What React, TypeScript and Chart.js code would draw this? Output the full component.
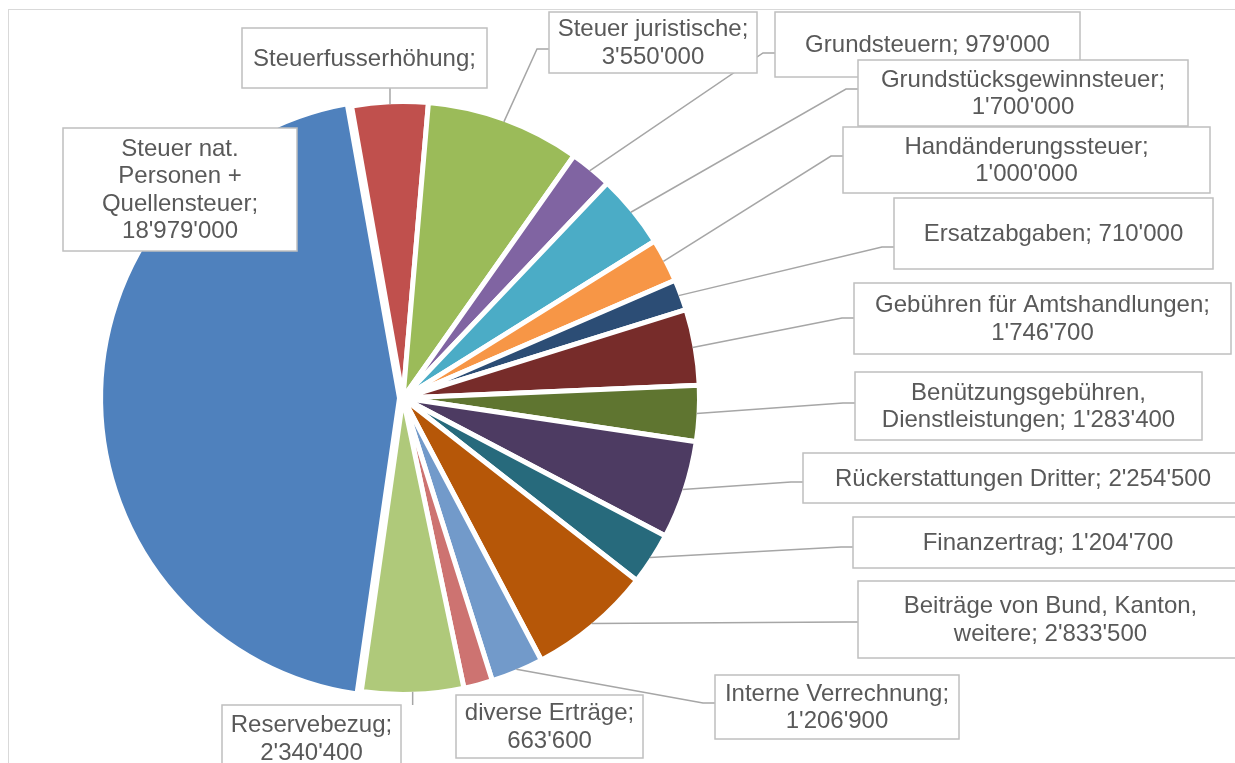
import React, { useEffect, useRef } from 'react';
import { Chart, registerables } from 'chart.js';

Chart.register(...registerables);

// ---------- data ----------
const CATEGORIES = [
  'Steuer nat. Personen + Quellensteuer',
  'Steuerfusserhöhung',
  'Steuer juristische',
  'Grundsteuern',
  'Grundstücksgewinnsteuer',
  'Handänderungssteuer',
  'Ersatzabgaben',
  'Gebühren für Amtshandlungen',
  'Benützungsgebühren, Dienstleistungen',
  'Rückerstattungen Dritter',
  'Finanzertrag',
  'Beiträge von Bund, Kanton, weitere',
  'Interne Verrechnung',
  'diverse Erträge',
  'Reservebezug',
];

const VALUES = [
  18979000, 1750000, 3550000, 979000, 1700000, 1000000, 710000, 1746700,
  1283400, 2254500, 1204700, 2833500, 1206900, 663600, 2340400,
];

// the value of "Steuerfusserhöhung" is not printed in its label
const SHOW_VALUE = [
  true, false, true, true, true, true, true, true,
  true, true, true, true, true, true, true,
];

const COLORS = [
  '#4F81BD', '#C0504D', '#9BBB59', '#8064A2', '#4BACC6', '#F79646',
  '#2C4D75', '#772C2A', '#5F7530', '#4D3B62', '#276A7C', '#B65708',
  '#729ACA', '#CD7371', '#AFC97A',
];

// ---------- layout (label callouts) ----------
// words per line of each label text
const LINE_WORDS = [
  [2, 2, 1, 1], [1], [2, 1], [2], [1, 1], [1, 1], [2], [3, 1],
  [1, 2], [3], [2], [4, 2], [2, 1], [2, 1], [1, 1],
];

type Box = { x: number; y: number; w: number; h: number; leader: 'none' | 'left' | 'top' | 'bottom'; ly?: number };
const LABEL_BOXES: Box[] = [
  { x: 63, y: 128, w: 234, h: 123, leader: 'none' },
  { x: 242, y: 28, w: 245, h: 60, leader: 'bottom' },
  { x: 549, y: 12, w: 208, h: 61, leader: 'left', ly: 49 },
  { x: 775, y: 12, w: 305, h: 65, leader: 'left', ly: 53 },
  { x: 858, y: 60, w: 330, h: 66, leader: 'left', ly: 89 },
  { x: 843, y: 127, w: 367, h: 66, leader: 'left', ly: 156 },
  { x: 894, y: 198, w: 319, h: 71, leader: 'left', ly: 247 },
  { x: 854, y: 283, w: 377, h: 71, leader: 'left', ly: 318 },
  { x: 855, y: 372, w: 347, h: 68, leader: 'left', ly: 403 },
  { x: 803, y: 453, w: 440, h: 50, leader: 'left', ly: 482 },
  { x: 853, y: 517, w: 390, h: 51, leader: 'left', ly: 547 },
  { x: 858, y: 581, w: 385, h: 77, leader: 'left', ly: 622 },
  { x: 715, y: 675, w: 244, h: 64, leader: 'left', ly: 703 },
  { x: 456, y: 695, w: 187, h: 63, leader: 'none' },
  { x: 222, y: 705, w: 179, h: 67, leader: 'top' },
];

const BORDER = 5;
const FONT = '24px "Liberation Sans", Arial, sans-serif';
const LINE_H = 27.5;

const fmt = (v: number) => String(v).replace(/\B(?=(\d{3})+(?!\d))/g, "'");

function labelLines(i: number): string[] {
  const text = CATEGORIES[i] + ';' + (SHOW_VALUE[i] ? ' ' + fmt(VALUES[i]) : '');
  const words = text.split(' ');
  const lines: string[] = [];
  let k = 0;
  for (const n of LINE_WORDS[i]) {
    lines.push(words.slice(k, k + n).join(' '));
    k += n;
  }
  return lines;
}

const calloutPlugin = {
  id: 'callouts',
  beforeDraw(chart: any) {
    const ctx = chart.ctx;
    ctx.save();
    ctx.fillStyle = '#ffffff';
    ctx.fillRect(0, 0, chart.width, chart.height);
    ctx.strokeStyle = '#D9D9D9';
    ctx.lineWidth = 1;
    ctx.strokeRect(8.5, 9.5, 1400, 900);
    ctx.restore();
  },
  afterDatasetsDraw(chart: any) {
    const ctx = chart.ctx;
    const meta = chart.getDatasetMeta(0);
    ctx.save();
    // leader lines
    ctx.strokeStyle = '#A6A6A6';
    ctx.lineWidth = 1.5;
    meta.data.forEach((arc: any, i: number) => {
      const box = LABEL_BOXES[i];
      if (!box || box.leader === 'none') return;
      const p = arc.getProps(['x', 'y', 'startAngle', 'endAngle', 'outerRadius'], true);
      const mid = (p.startAngle + p.endAngle) / 2;
      const r = p.outerRadius - BORDER / 2;
      const ax = p.x + Math.cos(mid) * r;
      const ay = p.y + Math.sin(mid) * r;
      ctx.beginPath();
      if (box.leader === 'left') {
        const ey = box.ly ?? box.y + box.h / 2;
        ctx.moveTo(ax, ay);
        ctx.lineTo(box.x - 12, ey);
        ctx.lineTo(box.x, ey);
      } else if (box.leader === 'bottom') {
        ctx.moveTo(ax, ay);
        ctx.lineTo(ax, box.y + box.h);
      } else if (box.leader === 'top') {
        ctx.moveTo(ax, ay);
        ctx.lineTo(ax, box.y);
      }
      ctx.stroke();
    });
    // boxes and texts
    ctx.font = FONT;
    ctx.textAlign = 'center';
    ctx.textBaseline = 'middle';
    LABEL_BOXES.forEach((box, i) => {
      ctx.fillStyle = '#ffffff';
      ctx.fillRect(box.x, box.y, box.w, box.h);
      ctx.strokeStyle = '#BFBFBF';
      ctx.lineWidth = 1.5;
      ctx.strokeRect(box.x, box.y, box.w, box.h);
      const lines = labelLines(i);
      const cx = box.x + box.w / 2;
      const cy = box.y + box.h / 2;
      const y0 = cy - ((lines.length - 1) * LINE_H) / 2;
      ctx.fillStyle = '#595959';
      lines.forEach((ln, k) => ctx.fillText(ln, cx, y0 + k * LINE_H + 1));
    });
    ctx.restore();
  },
};

export default function App() {
  const ref = useRef<HTMLCanvasElement | null>(null);
  useEffect(() => {
    if (!ref.current) return;
    const chart = new Chart(ref.current, {
      type: 'pie',
      data: {
        labels: CATEGORIES,
        datasets: [
          {
            data: VALUES,
            backgroundColor: COLORS,
            borderColor: '#ffffff',
            borderWidth: BORDER,
            offset: VALUES.map((_, i) => (i === 0 ? 14 : 0)),
            radius: 296.5,
          } as any,
        ],
      },
      options: {
        responsive: false,
        animation: false,
        rotation: 188.1,
        layout: { padding: { left: 50, right: 479, top: 50, bottom: 17 } },
        plugins: { legend: { display: false }, tooltip: { enabled: false } },
        events: [],
      } as any,
      plugins: [calloutPlugin],
    });
    return () => chart.destroy();
  }, []);
  return (
    <canvas
      ref={ref}
      width={1235}
      height={763}
      style={{ position: 'fixed', left: 0, top: 0, width: 1235, height: 763 }}
    />
  );
}
